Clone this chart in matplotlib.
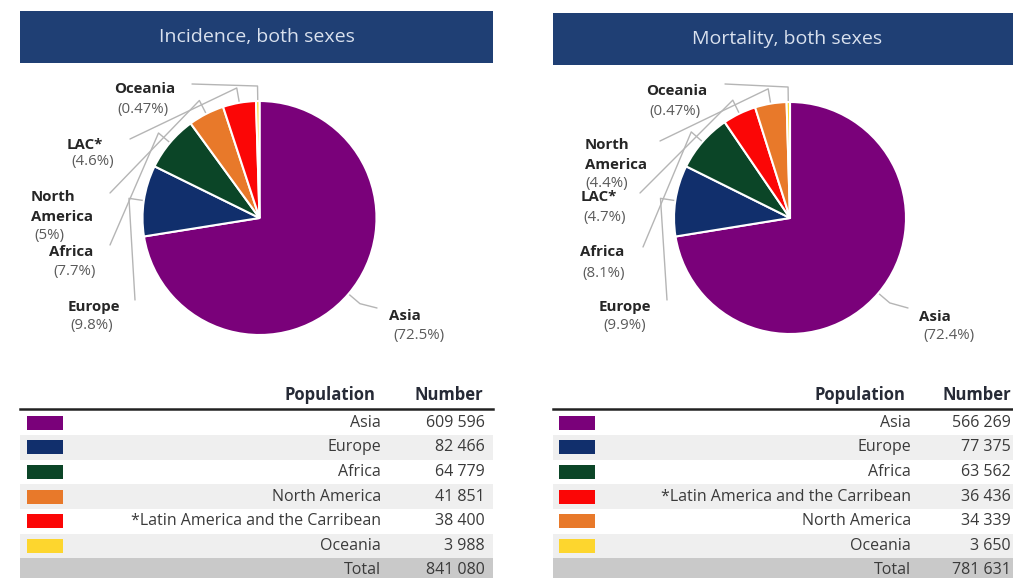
import matplotlib
matplotlib.use("Agg")
import matplotlib.pyplot as plt
from matplotlib.patches import Rectangle
import numpy as np

plt.rcParams['font.family'] = ['Open Sans', 'DejaVu Sans']

# ---------------- data ----------------
panel_titles = ["Incidence, both sexes", "Mortality, both sexes"]

inc_regions = ["Asia", "Europe", "Africa", "North America",
               "*Latin America and the Carribean", "Oceania"]
inc_values = [609596, 82466, 64779, 41851, 38400, 3988]
inc_pie_names = ["Asia", "Europe", "Africa", "North\nAmerica", "LAC*", "Oceania"]
inc_pcts = ["(72.5%)", "(9.8%)", "(7.7%)", "(5%)", "(4.6%)", "(0.47%)"]

mort_regions = ["Asia", "Europe", "Africa",
                "*Latin America and the Carribean", "North America", "Oceania"]
mort_values = [566269, 77375, 63562, 36436, 34339, 3650]
mort_pie_names = ["Asia", "Europe", "Africa", "LAC*", "North\nAmerica", "Oceania"]
mort_pcts = ["(72.4%)", "(9.9%)", "(8.1%)", "(4.7%)", "(4.4%)", "(0.47%)"]

region_colors = {
    "Asia": "#7a017a",
    "Europe": "#112f6c",
    "Africa": "#0b4527",
    "North America": "#e8792a",
    "*Latin America and the Carribean": "#fb0606",
    "Oceania": "#fdd62e",
}

# ---------------- layout ----------------
W, H = 1013, 578
fig = plt.figure(figsize=(W / 100, H / 100), dpi=100)
ax = fig.add_axes([0, 0, 1, 1])


def Y(y):
    return H - y


def fmt(v):
    return f"{v:,}".replace(",", " ")


panels = [
    dict(title=panel_titles[0], regions=inc_regions, values=inc_values,
         names=inc_pie_names, pcts=inc_pcts,
         bar=(20, 11, 493, 63), title_x=257,
         center=(259.5, 218), radius=117,
         # per wedge: (name_x, name_y, ha, pct_x, pct_y, anchor_x, anchor_y)
         labels=[(389, 316, 'left', 393, 336, 377, 308),
                 (94, 307, 'center', 92, 325, 135, 300),
                 (71, 252, 'center', 75, 272, 110, 245),
                 (31, 197, 'left', 34, 235, 110, 193),
                 (85, 145, 'center', 93, 162, 130, 139),
                 (145, 89, 'center', 143, 110, 192, 84)],
         pct_ha=['left', 'center', 'center', 'left', 'center', 'center'],
         tx0=20, tx1=493, sw_x=27, lab_r=381, num_r=485,
         pop_r=375, num_hdr=483),
    dict(title=panel_titles[1], regions=mort_regions, values=mort_values,
         names=mort_pie_names, pcts=mort_pcts,
         bar=(553, 13, 1013, 65), title_x=787,
         center=(790, 218), radius=116,
         labels=[(919, 317, 'left', 923, 336, 908, 308),
                 (625, 307, 'center', 625, 325, 667, 300),
                 (602, 252, 'center', 604, 273, 643, 247),
                 (581, 197, 'left', 605, 218, 640, 193),
                 (585, 145, 'left', 607, 183, 660, 141),
                 (677, 91, 'center', 675, 112, 725, 84)],
         pct_ha=['left', 'center', 'center', 'center', 'center', 'center'],
         tx0=553, tx1=1013, sw_x=559, lab_r=911, num_r=1011,
         pop_r=905, num_hdr=1011),
]

line_col = "#b5b5b5"
row_h = 24.6
row_top = 410.5
fs_row = 11.5
txt_col = "#3a3a3a"

for p in panels:
    # header bar
    x0, y0, x1, y1 = p['bar']
    ax.add_patch(Rectangle((x0, Y(y1)), x1 - x0, y1 - y0,
                           facecolor="#1f3f74", edgecolor="none", zorder=1))
    ax.text(p['title_x'], Y((y0 + y1) / 2), p['title'], ha='center', va='center',
            color="#d9e1ee", fontsize=14, zorder=2)

    # pie
    cx, cy = p['center']
    r = p['radius']
    cols = [region_colors[k] for k in p['regions']]
    wedges, _ = ax.pie(p['values'], colors=cols, startangle=90, counterclock=False,
                       center=(cx, Y(cy)), radius=r,
                       wedgeprops=dict(edgecolor='white', linewidth=1.5))

    for i, w in enumerate(wedges):
        ang = np.deg2rad((w.theta1 + w.theta2) / 2)
        px, py = cx + r * np.cos(ang), Y(cy) + r * np.sin(ang)
        ex, ey = cx + (r + 15) * np.cos(ang), Y(cy) + (r + 15) * np.sin(ang)
        nx, ny, ha, pcx, pcy, axx, ayy = p['labels'][i]
        ax.plot([px, ex, axx], [py, ey, Y(ayy)], color=line_col, lw=1.0,
                solid_capstyle='round', zorder=0.5)
        for j, line in enumerate(p['names'][i].split("\n")):
            ax.text(nx, Y(ny + 20 * j), line, ha=ha, va='center', fontsize=10.8,
                    fontweight='bold', color="#262626", zorder=3)
        ax.text(pcx, Y(pcy), p['pcts'][i], ha=p['pct_ha'][i], va='center',
                fontsize=10.8, color="#5a5a5a", zorder=3)

    # table
    tx0, tx1 = p['tx0'], p['tx1']
    ax.text(p['pop_r'], Y(395), "Population", ha='right', va='center',
            fontsize=12, fontweight='bold', color="#262a36")
    ax.text(p['num_hdr'], Y(395), "Number", ha='right', va='center',
            fontsize=12, fontweight='bold', color="#262a36")
    ax.plot([tx0, tx1], [Y(409), Y(409)], color="#222222", lw=1.8)

    n = len(p['regions'])
    for i in range(n + 1):
        top = row_top + row_h * i
        yc = top + row_h / 2
        if i == n:
            ax.add_patch(Rectangle((tx0, Y(top + row_h)), tx1 - tx0, row_h,
                                   facecolor="#c9c9c9", edgecolor='none', zorder=0))
            ax.text(p['lab_r'], Y(yc), "Total", ha='right', va='center',
                    fontsize=fs_row, color=txt_col)
            ax.text(p['num_r'], Y(yc), fmt(sum(p['values'])), ha='right',
                    va='center', fontsize=fs_row, color=txt_col)
            continue
        if i % 2 == 1:
            ax.add_patch(Rectangle((tx0, Y(top + row_h)), tx1 - tx0, row_h,
                                   facecolor="#efefef", edgecolor='none', zorder=0))
        ax.add_patch(Rectangle((p['sw_x'], Y(yc + 7)), 36, 14,
                               facecolor=region_colors[p['regions'][i]],
                               edgecolor='none', zorder=1))
        ax.text(p['lab_r'], Y(yc), p['regions'][i], ha='right', va='center',
                fontsize=fs_row, color=txt_col)
        ax.text(p['num_r'], Y(yc), fmt(p['values'][i]), ha='right', va='center',
                fontsize=fs_row, color=txt_col)

ax.set_xlim(0, W)
ax.set_ylim(0, H)
ax.set_aspect('equal')
ax.axis('off')

fig.savefig("out.png", dpi=100, facecolor='white')
